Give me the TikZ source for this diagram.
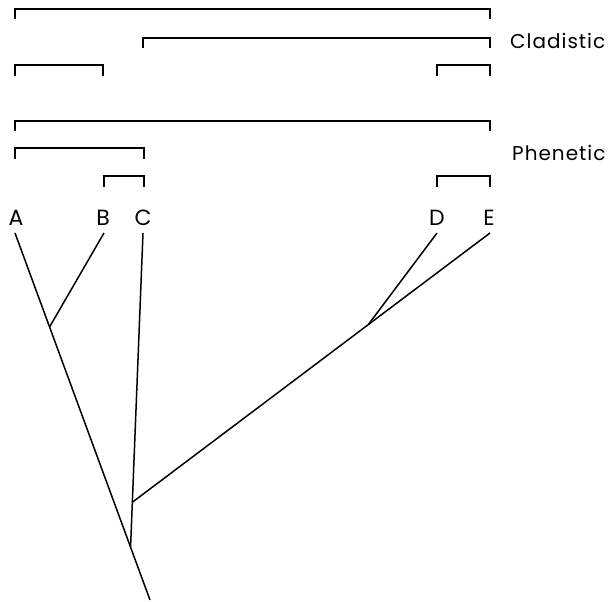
\documentclass[tikz,border=0pt]{standalone}
\usepackage{fontspec}
\newfontfamily\lblfont[LetterSpace=5]{Poppins}
\usetikzlibrary{calc}
\begin{document}
\begin{tikzpicture}[x=1pt,y=-1pt,
  br/.style={line width=1.3pt},
  branch/.style={line width=1.5pt},
  leaf/.style={font=\lblfont\fontsize{22}{22}\selectfont, inner sep=0pt, anchor=center},
  grp/.style={font=\lblfont\fontsize{20}{20}\selectfont, inner sep=0pt, anchor=west}]
\useasboundingbox (0,0) rectangle (608,602);
% leaf labels
\node[leaf] (A) at (16,218) {A};
\node[leaf] (B) at (103,218) {B};
\node[leaf] (C) at (143,218) {C};
\node[leaf] (D) at (437,218) {D};
\node[leaf] (E) at (489,218) {E};
\node[grp] (clad) at (510,41) {Cladistic};
\node[grp] (phen) at (512,153) {Phenetic};
% cladistic brackets
\draw[br] (15,19) |- (490,9) -- (490,19);
\draw[br] (143,48) |- (490,38) -- (490,48);
\draw[br] (15,76) |- (103,65) -- (103,76);
\draw[br] (437,76) |- (490,65) -- (490,76);
% phenetic brackets
\draw[br] (15,131) |- (490,121) -- (490,131);
\draw[br] (15,159) |- (144,148) -- (144,159);
\draw[br] (104,187) |- (144,176) -- (144,187);
\draw[br] (437,187) |- (490,176) -- (490,187);
% tree
\coordinate (Atop) at (15,233);
\coordinate (Abot) at (150,600);
\coordinate (Btop) at (104,233);
\coordinate (Ctop) at (143,233);
\coordinate (Dtop) at (437,233);
\coordinate (Etop) at (490,233);
\coordinate (jAB) at ($(Atop)!0.256!(Abot)$);
\coordinate (jAC) at ($(Atop)!0.856!(Abot)$);
\coordinate (jCE) at ($(Ctop)!0.857!(jAC)$);
\coordinate (jDE) at ($(Etop)!0.34!(jCE)$);
\draw[branch] (Atop) -- (Abot);
\draw[branch] (Btop) -- (jAB);
\draw[branch] (Ctop) -- (jAC);
\draw[branch] (Etop) -- (jCE);
\draw[branch] (Dtop) -- (jDE);
\end{tikzpicture}
\end{document}
